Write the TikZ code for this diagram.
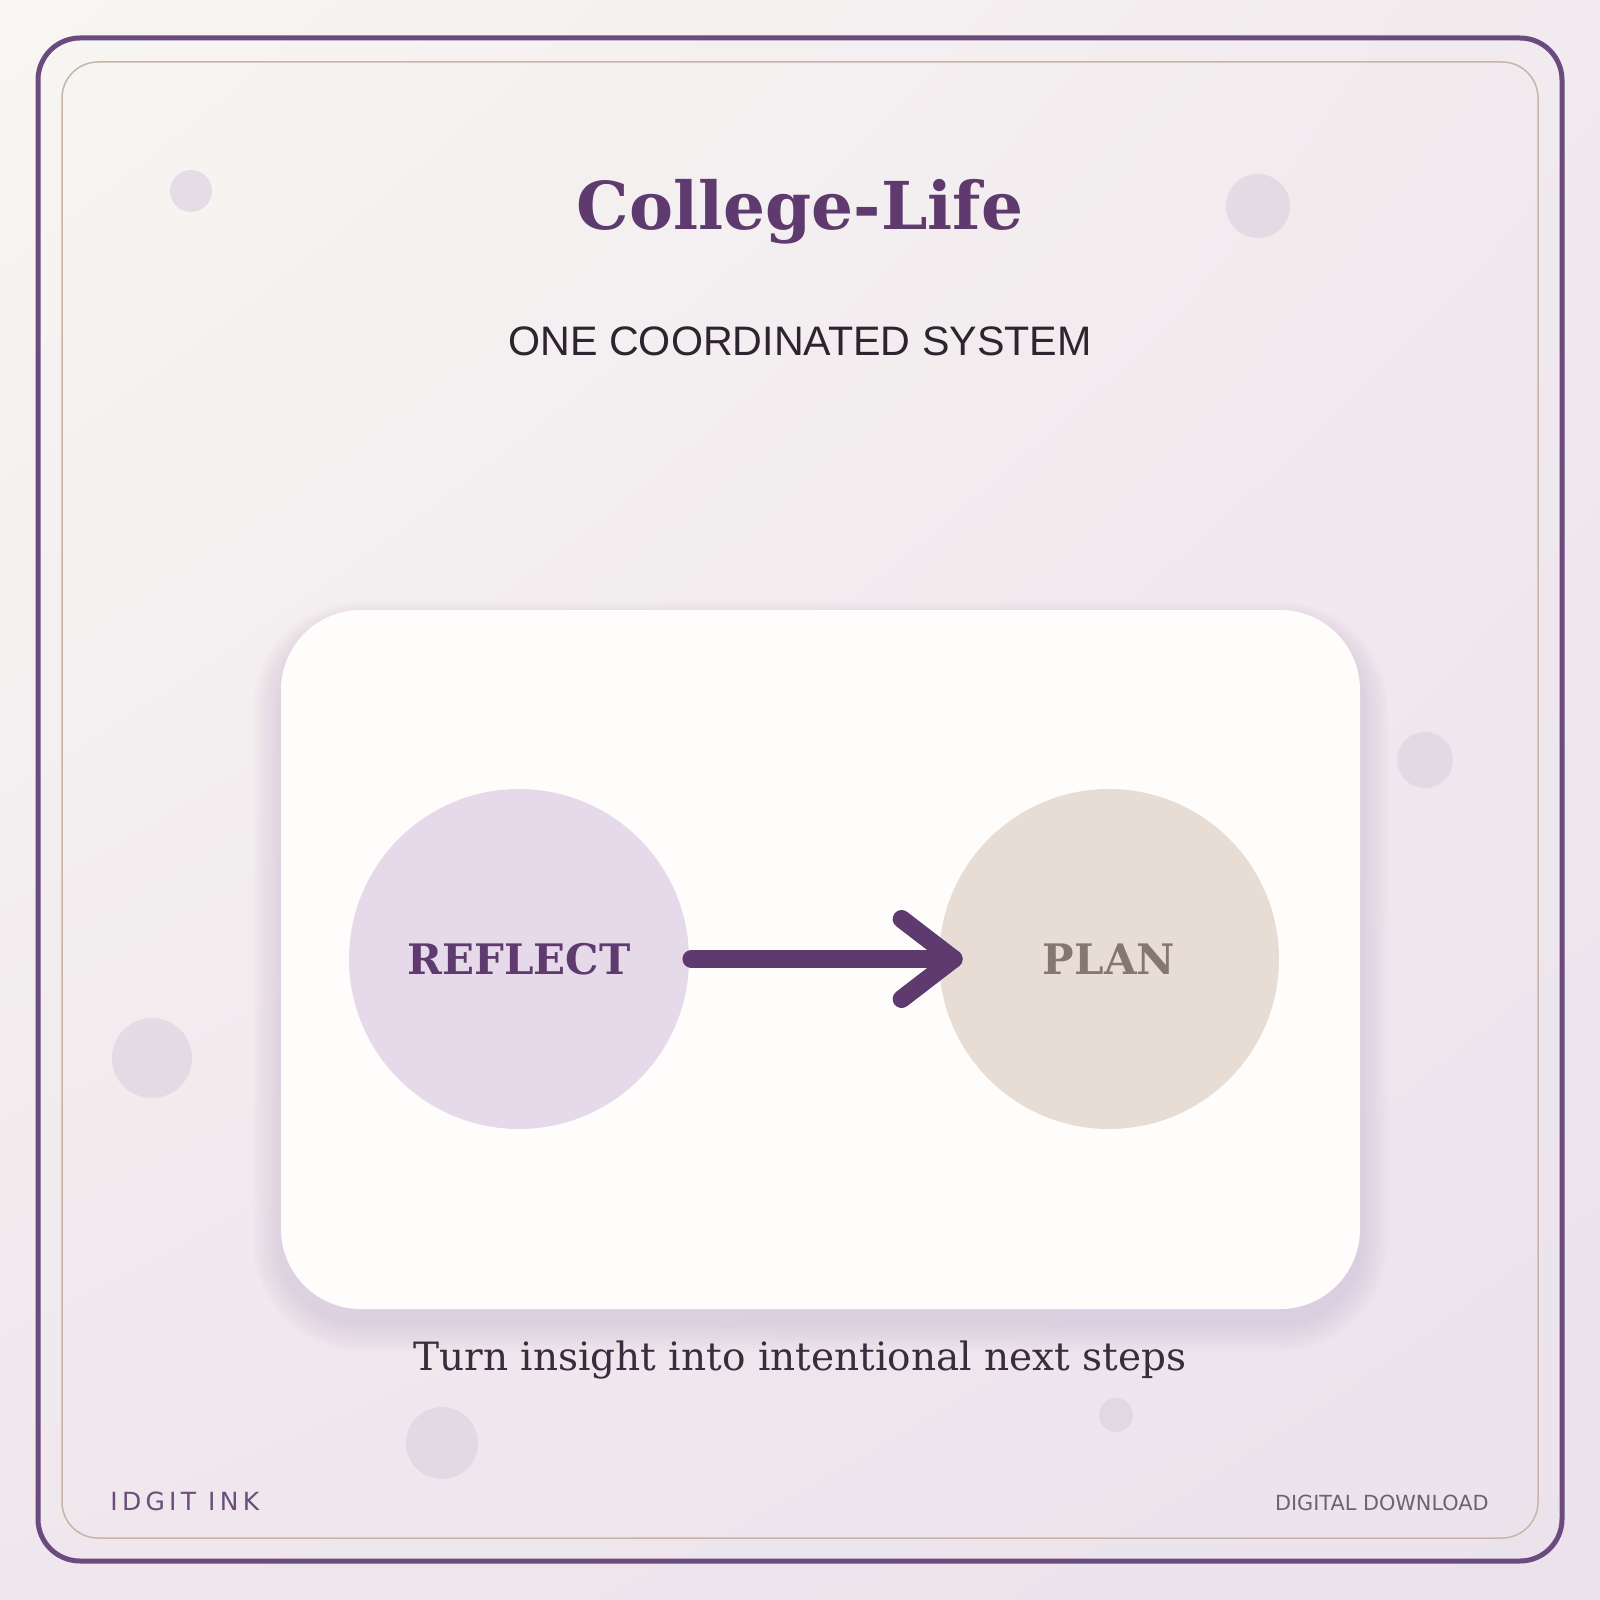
\documentclass[tikz,border=0pt]{standalone}
\usepackage{fontspec}
\usetikzlibrary{shadings}
\newfontfamily\djserif{DejaVu Serif}
\newfontfamily\djsans{DejaVu Sans}
\newfontfamily\lsans{Liberation Sans}
\newfontfamily\djsansspaced[LetterSpace=17]{DejaVu Sans}
\definecolor{plum}{HTML}{5E3A6E}
\definecolor{outerb}{HTML}{6B4A80}
\definecolor{innerb}{HTML}{C8B5A8}
\definecolor{subt}{HTML}{2E2430}
\definecolor{reflectfill}{HTML}{E5D9EA}
\definecolor{planfill}{HTML}{E8DDD5}
\definecolor{plantext}{HTML}{857672}
\definecolor{captext}{HTML}{3A2C3C}
\definecolor{brandc}{HTML}{6A4C7E}
\definecolor{dlc}{HTML}{6E6270}
\definecolor{dotc}{HTML}{DDD2E0}
\definecolor{bgtl}{HTML}{F8F6F2}
\definecolor{bgtr}{HTML}{F1EAEE}
\definecolor{bgbl}{HTML}{EFE7ED}
\definecolor{bgbr}{HTML}{EBE2EC}
\definecolor{cardc}{HTML}{FFFDFC}
\definecolor{shadowc}{HTML}{8E62A8}
\begin{document}
\begin{tikzpicture}[x=0.5pt,y=-0.5pt,
  stagecircle/.style={circle, minimum size=170pt, inner sep=0pt},
  arrowline/.style={draw=plum, line width=9pt, line cap=round, line join=round},
  deco/.style={fill=dotc, opacity=0.65}]
\useasboundingbox (0,0) rectangle (1600,1600);
% background
\shade[upper left=bgtl, upper right=bgtr, lower left=bgbl, lower right=bgbr] (0,0) rectangle (1600,1600);
% frames
\draw[outerb, line width=2.5pt, rounded corners=21pt] (38,38) rectangle (1562,1561);
\draw[innerb, line width=0.75pt, rounded corners=18pt] (62,62) rectangle (1538,1538);
% decorative dots
\fill[deco] (191,191) circle (21);
\fill[deco] (1258,206) circle (32);
\fill[deco] (1425,760) circle (28);
\fill[deco] (152,1058) circle (40);
\fill[deco] (442,1443) circle (36);
\fill[deco] (1116,1415) circle (17);
% title texts
\node[anchor=base, text=plum, font=\djserif\bfseries\fontsize{33}{40}\selectfont] (title) at (800,229) {College-Life};
\node[anchor=base, text=subt, font=\lsans\fontsize{20.6}{24}\selectfont] (subtitle) at (800,355) {ONE COORDINATED SYSTEM};
% card shadow
\foreach \i in {1,...,10} {
  \fill[shadowc, opacity=0.017, rounded corners={40pt+\i*1.4pt}] (281-\i*2.8,610-\i*2.2+14) rectangle (1360+\i*2.8,1309+\i*2.8+14);
}
\node[draw=none, fill=cardc, rounded corners=40pt, minimum width=539.5pt, minimum height=349.5pt, inner sep=0pt] (card) at (820.5,959.5) {};
% circles
\node[stagecircle, fill=reflectfill, text=plum, font=\djserif\bfseries\fontsize{21}{25}\selectfont] (reflect) at (519,959) {REFLECT};
\node[stagecircle, fill=planfill, text=plantext, font=\djserif\bfseries\fontsize{21}{25}\selectfont] (plan) at (1109,959) {PLAN};
% arrow
\coordinate (tip) at ([xshift=7.5pt]plan.west);
\coordinate (start) at ([xshift=1pt]reflect.east);
\draw[arrowline] (start) -- (tip);
\path (tip) ++(-52,-40) coordinate (wingtop);
\draw[arrowline] (wingtop) -- (tip) -- ++(-52,40);
% caption
\node[anchor=base, text=captext, font=\djserif\fontsize{19.5}{23}\selectfont] (caption) at (800,1370) {Turn insight into intentional next steps};
% footer
\node[anchor=base west, inner sep=0pt, text=brandc, font=\djsansspaced\fontsize{12.5}{15}\selectfont] (brand) at (110,1510) {IDGIT INK};
\node[anchor=base east, inner sep=0pt, text=dlc, font=\djsans\fontsize{10.4}{12}\selectfont] (dl) at (1489,1510) {DIGITAL DOWNLOAD};
\end{tikzpicture}
\end{document}
